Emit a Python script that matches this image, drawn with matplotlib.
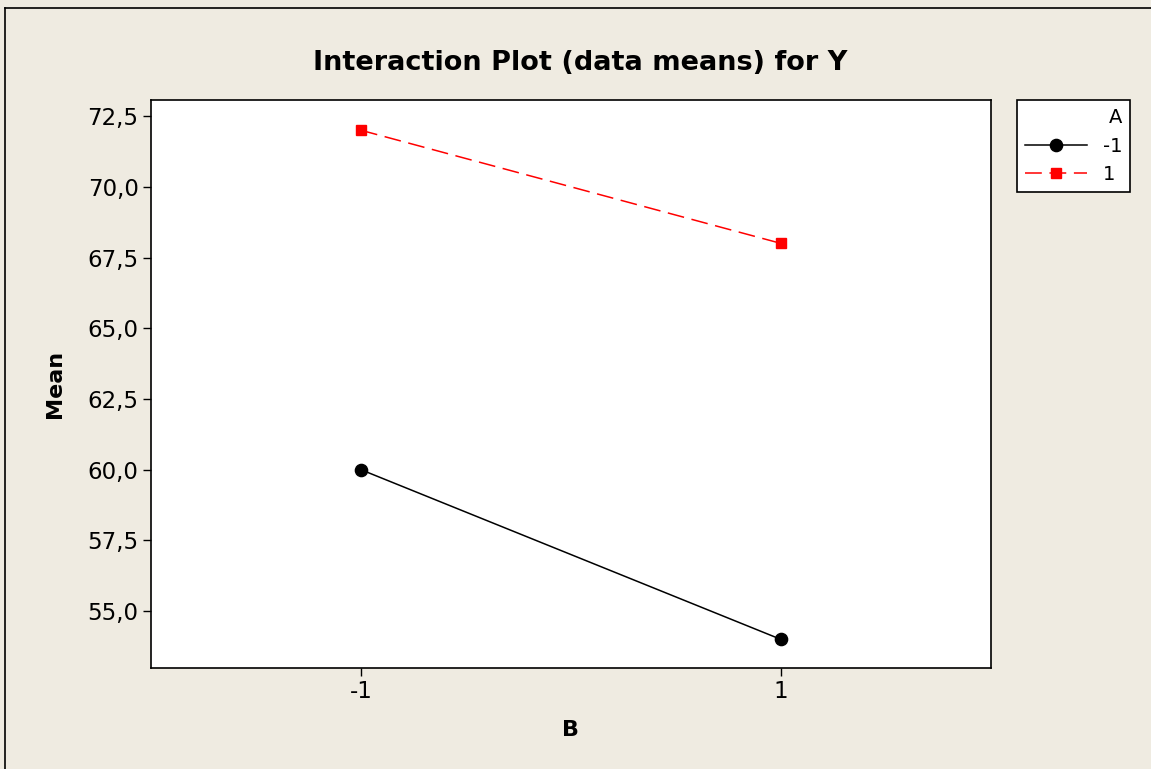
import matplotlib.pyplot as plt
from matplotlib.lines import Line2D

# data means for Y by factor B, one series per level of A
b_levels = [-1, 1]
b_labels = ["-1", "1"]
mean_a_neg = [60.0, 54.0]
mean_a_pos = [72.0, 68.0]
y_ticks = [55.0, 57.5, 60.0, 62.5, 65.0, 67.5, 70.0, 72.5]

bg = "#efebe1"

fig = plt.figure(figsize=(11.51, 7.69), dpi=100, facecolor=bg)
ax = fig.add_axes([151/1151, 1 - 668/769, 840/1151, 568/769])
ax.set_facecolor("white")

l1, = ax.plot(b_levels, mean_a_neg, color="black", lw=1.1, marker="o", ms=8.8,
	label="-1")
l2, = ax.plot(b_levels, mean_a_pos, color="red", lw=1.1, ls=(0, (11, 5)),
	marker="s", ms=7.8, label="1")

ax.set_xlim(-2.0, 2.0)
ax.set_ylim(52.99, 73.07)
ax.set_xticks(b_levels)
ax.set_xticklabels(b_labels)
ax.set_yticks(y_ticks)
ax.set_yticklabels([f"{v:.1f}".replace(".", ",") for v in y_ticks])
ax.tick_params(labelsize=16.5, length=6, width=1, direction="out", pad=3)
for s in ax.spines.values():
	s.set_linewidth(1.2)

ax.set_xlabel("B", fontsize=16, fontweight="bold", labelpad=12)
ax.set_ylabel("Mean", fontsize=16, fontweight="bold", labelpad=16)
fig.text(580/1151, 1 - 63/769, "Interaction Plot (data means) for Y",
	ha="center", va="center", fontsize=19.5, fontweight="bold")

leg = fig.legend(handles=[l1, l2], title="A", alignment="right",
	loc="upper left", bbox_to_anchor=(1017/1151, 1 - 100/769),
	fancybox=False, edgecolor="black", framealpha=1, fontsize=14,
	title_fontsize=14, handlelength=3.2, borderaxespad=0, borderpad=0.4,
	labelspacing=0.5, handletextpad=0.8)
leg.get_frame().set_linewidth(1.2)

# thin frame on top and left edges of the figure
fig.add_artist(Line2D([5/1151, 1], [1 - 8/769, 1 - 8/769], color="black", lw=1.2))
fig.add_artist(Line2D([5/1151, 5/1151], [0, 1 - 8/769], color="black", lw=1.2))

fig.savefig("out.png", dpi=100, facecolor=bg)
